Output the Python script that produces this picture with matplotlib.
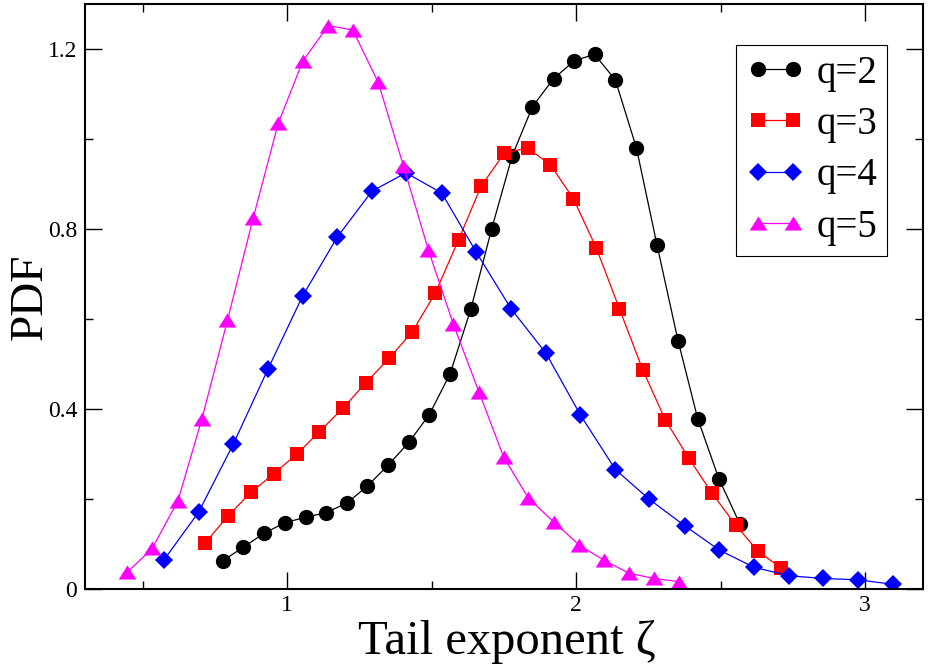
import matplotlib
matplotlib.use("Agg")
import matplotlib.pyplot as plt
from matplotlib.ticker import MultipleLocator

plt.rcParams['font.family'] = ['Liberation Serif', 'DejaVu Serif']
plt.rcParams['xtick.labelsize'] = 17
plt.rcParams['ytick.labelsize'] = 17

# tail exponent histograms for each q
q2_x = [0.776, 0.847, 0.919, 0.992, 1.064, 1.133, 1.206, 1.277, 1.350, 1.422, 1.492, 1.564, 1.636,
        1.708, 1.779, 1.849, 1.922, 1.994, 2.064, 2.136, 2.209, 2.280, 2.353, 2.421, 2.494, 2.567]
q2_y = [0.063, 0.093, 0.124, 0.148, 0.160, 0.170, 0.191, 0.229, 0.276, 0.327, 0.388, 0.479, 0.623,
        0.801, 0.963, 1.072, 1.134, 1.174, 1.188, 1.131, 0.980, 0.765, 0.552, 0.379, 0.246, 0.145]

q3_x = [0.715, 0.795, 0.874, 0.954, 1.033, 1.110, 1.194, 1.273, 1.354, 1.432, 1.512, 1.593, 1.671,
        1.752, 1.832, 1.911, 1.991, 2.070, 2.150, 2.231, 2.309, 2.390, 2.471, 2.552, 2.629, 2.708]
q3_y = [0.102, 0.163, 0.215, 0.257, 0.300, 0.349, 0.403, 0.459, 0.514, 0.571, 0.657, 0.776, 0.895,
        0.969, 0.980, 0.943, 0.867, 0.758, 0.623, 0.487, 0.376, 0.291, 0.213, 0.143, 0.085, 0.048]

q4_x = [0.573, 0.693, 0.813, 0.934, 1.053, 1.173, 1.293, 1.411, 1.535, 1.654, 1.775,
        1.896, 2.015, 2.136, 2.253, 2.376, 2.496, 2.615, 2.737, 2.856, 2.977, 3.097]
q4_y = [0.065, 0.171, 0.322, 0.490, 0.651, 0.782, 0.884, 0.925, 0.880, 0.749, 0.623,
        0.524, 0.387, 0.266, 0.200, 0.141, 0.087, 0.049, 0.030, 0.024, 0.021, 0.011]

q5_x = [0.447, 0.533, 0.622, 0.705, 0.793, 0.882, 0.969, 1.054, 1.142, 1.227, 1.315, 1.402,
        1.489, 1.575, 1.664, 1.749, 1.835, 1.922, 2.011, 2.095, 2.182, 2.269, 2.355]
q5_y = [0.038, 0.091, 0.197, 0.379, 0.597, 0.824, 1.035, 1.173, 1.252, 1.242, 1.126, 0.941,
        0.753, 0.589, 0.438, 0.294, 0.202, 0.150, 0.098, 0.065, 0.036, 0.024, 0.017]

labels = ["q=2", "q=3", "q=4", "q=5"]
yticks = [0, 0.4, 0.8, 1.2]
ytick_labels = ["0", "0.4", "0.8", "1.2"]

# wide, flat triangle like the xmgrace one
tri = [(-1.0, -0.8), (1.0, -0.8), (0.0, 0.8), (-1.0, -0.8)]

fig = plt.figure(figsize=(9.3, 6.71), dpi=100)
ax = fig.add_axes([0.0914, 0.1218, 0.9008, 0.8723])

ax.plot(q2_x, q2_y, color="black", lw=0.9, marker="o", ms=11, mew=0, label=labels[0])
ax.plot(q3_x, q3_y, color="red", lw=0.9, marker="s", ms=10.5, mew=0, label=labels[1])
ax.plot(q4_x, q4_y, color="blue", lw=0.9, marker="D", ms=9.5, mew=0, label=labels[2])
ax.plot(q5_x, q5_y, color="magenta", lw=0.9, marker=tri, ms=12.7, mew=0, label=labels[3])

ax.set_xlim(0.3, 3.2)
ax.set_ylim(0, 1.3)
ax.xaxis.set_major_locator(MultipleLocator(1))
ax.xaxis.set_minor_locator(MultipleLocator(0.5))
ax.yaxis.set_minor_locator(MultipleLocator(0.2))
ax.set_yticks(yticks)
ax.set_yticklabels(ytick_labels)

ax.tick_params(which="both", direction="in", top=True, right=True, width=1.0)
ax.tick_params(which="major", length=12)
ax.tick_params(which="minor", length=5.8)
ax.tick_params(axis="y", pad=5.5)
ax.tick_params(axis="x", pad=4)
for s in ax.spines.values():
    s.set_linewidth(1.5)

ax.set_xlabel("Tail exponent ζ", fontsize=35)
ax.set_ylabel("PDF", fontsize=34)
ax.xaxis.set_label_coords(0.503, -0.052)
ax.yaxis.set_label_coords(-0.040, 0.5)

leg = ax.legend(loc="upper right", bbox_to_anchor=(0.957, 0.930), borderaxespad=0,
                fontsize=28, numpoints=2, handlelength=1.5, handletextpad=0.3,
                borderpad=0.25, labelspacing=0.37, fancybox=False, framealpha=1,
                edgecolor="black")
leg.get_frame().set_linewidth(0.8)

fig.savefig("out.png", dpi=100)
